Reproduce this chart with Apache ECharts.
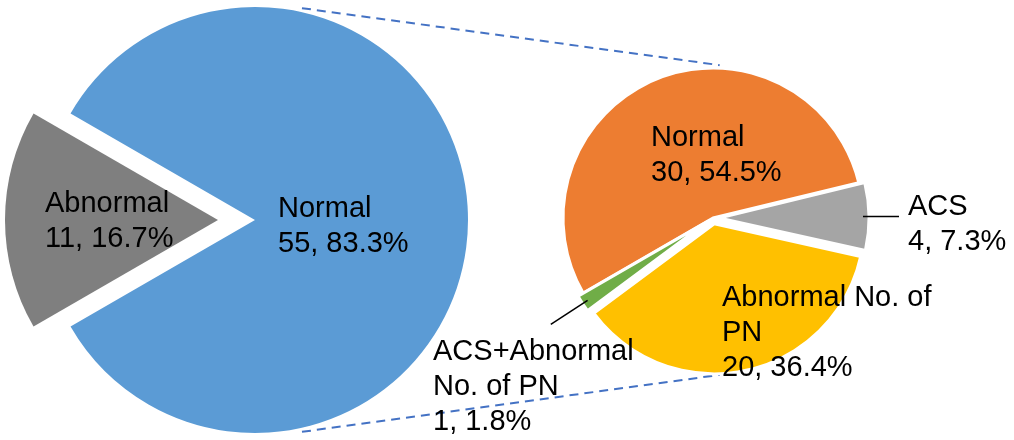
<!DOCTYPE html>
<html>
<head>
<meta charset="utf-8">
<script src="https://cdn.jsdelivr.net/npm/echarts@6/dist/echarts.min.js"></script>
<style>
  html, body { margin: 0; padding: 0; background: #ffffff; }
  #chart { width: 1014px; height: 440px; }
</style>
</head>
<body>
<div id="chart"></div>
<script>
// Whole group
const mainNames = ['Normal', 'Abnormal'];
const mainValues = [55, 11];
const mainExploded = [false, true];

// Breakdown of the "Normal" group
const subNames = ['Normal', 'ACS', 'Abnormal No. of\nPN', 'ACS+Abnormal\nNo. of PN'];
const subValues = [30, 4, 20, 1];
const subExploded = [false, true, true, true];

// Styling and layout (kept apart from the data)
const mainColors = ['#5B9BD5', '#7F7F7F'];
const subColors = ['#ED7D31', '#A5A5A5', '#FFC000', '#70AD47'];
const BIG = { cx: 255, cy: 220, r: 213, start: 150, offset: 37 };
const SMALL = { cx: 713, cy: 218, r: 150, start: 210, offset: 6 };
const mainLabelAt = [[278, 226.5], [45, 221.5]];
const subLabelAt = [[651, 155], [908, 224.5], [722, 333], [433, 387]];
const subOutside = [false, true, false, true];
const subLeader = [null, [10, 26], null, [44, 0]];

const FONT = '"Liberation Sans", Arial, sans-serif';
const textRich = { t: { align: 'left', fontSize: 29, lineHeight: 35, color: '#000', fontFamily: FONT } };
const fmt = p => `{t|${p.name}}\n{t|${p.value}, ${p.percent}%}`;

function placeLabel(table) {
  return p => {
    const at = table[p.dataIndex];
    const out = { x: at[0], y: at[1], align: 'left', verticalAlign: 'middle' };
    if (p.labelLinePoints) out.labelLinePoints = p.labelLinePoints;
    return out;
  };
}

// Sector layer: coloured slices, some pulled out from the centre
function sectorSeries(geo, names, values, colors, exploded, border) {
  return {
    type: 'pie', z: 2,
    center: [geo.cx, geo.cy], radius: geo.r,
    startAngle: geo.start, clockwise: true,
    selectedMode: 'multiple', selectedOffset: geo.offset,
    emphasis: { disabled: true }, silent: true,
    itemStyle: { borderColor: '#ffffff', borderWidth: border },
    label: { show: false }, labelLine: { show: false },
    data: names.map((n, i) => ({ name: n, value: values[i], selected: exploded[i],
      itemStyle: { color: colors[i] } }))
  };
}

// Label layer: same slices, invisible, carrying the "name / value, percent" labels
function labelSeries(geo, names, values, labelAt, outside, leader) {
  return {
    type: 'pie', z: 3,
    center: [geo.cx, geo.cy], radius: geo.r,
    startAngle: geo.start, clockwise: true,
    percentPrecision: 1, avoidLabelOverlap: false,
    emphasis: { disabled: true }, silent: true,
    itemStyle: { color: 'rgba(0,0,0,0)', borderWidth: 0 },
    label: { show: true, position: 'inside', formatter: fmt, rich: textRich },
    labelLine: { show: false },
    labelLayout: placeLabel(labelAt),
    data: names.map((n, i) => {
      const item = { name: n, value: values[i] };
      if (outside && outside[i]) {
        item.label = { position: 'outside', distanceToLabelLine: 9 };
        item.labelLine = { show: true, length: leader[i][0], length2: leader[i][1],
          lineStyle: { color: '#000', width: 1.5 } };
      }
      return item;
    })
  };
}

function rim(c, r, deg) {
  const a = deg * Math.PI / 180;
  return [c.cx + r * Math.cos(a), c.cy - r * Math.sin(a)];
}
const connectorStyle = { stroke: '#4472C4', lineWidth: 2, lineDash: [9, 6] };
const topA = rim(BIG, BIG.r + 4, 77.5), topB = rim(SMALL, SMALL.r + 3, 87.5);
const botA = rim(BIG, BIG.r + 4, -77.5), botB = rim(SMALL, SMALL.r + 7, -87.5);

const chart = echarts.init(document.getElementById('chart'), null, { renderer: 'canvas' });
chart.setOption({
  animation: false,
  backgroundColor: '#ffffff',
  graphic: [
    { type: 'line', z: 1, shape: { x1: topA[0], y1: topA[1], x2: topB[0], y2: topB[1] }, style: connectorStyle },
    { type: 'line', z: 1, shape: { x1: botA[0], y1: botA[1], x2: botB[0], y2: botB[1] }, style: connectorStyle }
  ],
  series: [
    sectorSeries(BIG, mainNames, mainValues, mainColors, mainExploded, 0),
    sectorSeries(SMALL, subNames, subValues, subColors, subExploded, 3),
    labelSeries(BIG, mainNames, mainValues, mainLabelAt, null, null),
    labelSeries(SMALL, subNames, subValues, subLabelAt, subOutside, subLeader)
  ]
});
</script>
</body>
</html>
